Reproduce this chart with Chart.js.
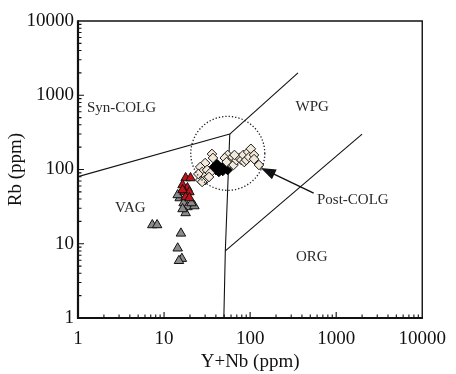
<!DOCTYPE html>
<html>
<head>
<meta charset="utf-8">
<script src="https://cdn.jsdelivr.net/npm/chart.js@4.4.1/dist/chart.umd.min.js"></script>
<style>
  html, body { margin: 0; padding: 0; background: #fff; }
  #wrap { width: 456px; height: 374px; }
</style>
</head>
<body>
<div id="wrap"><canvas id="rbChart" width="456" height="374"></canvas></div>
<script>
// tick labels (powers of ten only)
const tickValues = [1, 10, 100, 1000, 10000];

// gray triangles
const grayX = [7.3, 8.3, 15.7, 14.4, 16.1, 14.9, 15.2, 16.9, 18.7, 22.5, 17.8, 16.4, 20.8, 14.4];
const grayY = [17.9, 17.9, 13.8, 8.7, 6.3, 5.9, 41.3, 35.4, 31.3, 32.2, 26.0, 29.4, 35.4, 45.4];

// red triangles
const redX = [17.8, 20.3, 16.4, 18.7, 17.3, 19.7, 17.8, 19.7, 16.4];
const redY = [76.8, 76.8, 61.8, 56.4, 49.8, 49.8, 42.6, 41.3, 53];

// beige diamonds
const beigeX = [36, 30, 26.3, 27.7, 31.6, 34.2, 29.2, 26.3, 30, 25, 33.3, 37, 27.7,
  54.8, 50.7, 57.7, 53.3, 62.4, 64.1, 69.3, 75, 79.1, 83.2, 85.5, 90.1, 94.9, 97.5,
  102, 111, 111, 126.6, 65.8];
const beigeY = [162, 122, 108, 92.5, 98.5, 89.7, 79.3, 72.2, 72.2, 87, 79.3, 143, 68,
  157, 143, 122, 126, 147, 115, 134, 143, 134, 157, 126, 134, 172, 147,
  190, 157, 138, 115, 157];

// black diamonds
const blackX = [37, 41.1, 45.6, 50.7, 54.8, 43.3, 40, 48.1];
const blackY = [104.7, 118.6, 104.7, 115, 98.5, 92.6, 98.5, 95.5];

// field boundaries
const synVagX = [1, 58];
const synVagY = [80, 300];
const synWpgX = [58, 360];
const synWpgY = [300, 2000];
const vagOrgX = [49.5, 51.5, 58];
const vagOrgY = [1, 8, 300];
const wpgOrgX = [51.5, 2000];
const wpgOrgY = [8, 300];

// field labels
const fieldNames = ["Syn-COLG", "WPG", "VAG", "Post-COLG", "ORG"];
const fieldX = [3.2, 527, 4.06, 1560, 520];
const fieldY = [673, 695, 30.3, 38.8, 6.63];

// post-COLG circle + arrow
const circleCenter = [55, 165];
const circleEdgeX = 148;
const arrowFrom = [547, 48];
const arrowTo = [133, 105];

const serif = "'Liberation Serif', 'Times New Roman', serif";

function pts(xs, ys) {
  return xs.map((x, i) => ({ x: x, y: ys[i] }));
}

function lineSet(xs, ys) {
  return {
    type: "line",
    data: pts(xs, ys),
    showLine: true,
    borderColor: "#111",
    borderWidth: 1.1,
    pointRadius: 0,
    fill: false,
    order: 10,
  };
}

const decorPlugin = {
  id: "decor",
  afterDatasetsDraw(chart) {
    const ctx = chart.ctx;
    const xs = chart.scales.x;
    const ys = chart.scales.y;
    const area = chart.chartArea;

    // dotted circle
    const cx = xs.getPixelForValue(circleCenter[0]);
    const cy = ys.getPixelForValue(circleCenter[1]);
    const r = xs.getPixelForValue(circleEdgeX) - cx;
    ctx.save();
    ctx.strokeStyle = "#222";
    ctx.lineWidth = 1.3;
    ctx.setLineDash([1.3, 2]);
    ctx.beginPath();
    ctx.arc(cx, cy, r, 0, Math.PI * 2);
    ctx.stroke();
    ctx.restore();

    // arrow
    const x1 = xs.getPixelForValue(arrowFrom[0]);
    const y1 = ys.getPixelForValue(arrowFrom[1]);
    const x2 = xs.getPixelForValue(arrowTo[0]);
    const y2 = ys.getPixelForValue(arrowTo[1]);
    const ang = Math.atan2(y2 - y1, x2 - x1);
    ctx.save();
    ctx.strokeStyle = "#111";
    ctx.fillStyle = "#111";
    ctx.lineWidth = 1.4;
    ctx.beginPath();
    ctx.moveTo(x1, y1);
    ctx.lineTo(x2 - 10 * Math.cos(ang), y2 - 10 * Math.sin(ang));
    ctx.stroke();
    ctx.beginPath();
    ctx.moveTo(x2, y2);
    ctx.lineTo(x2 - 15 * Math.cos(ang) + 5.5 * Math.sin(ang), y2 - 15 * Math.sin(ang) - 5.5 * Math.cos(ang));
    ctx.lineTo(x2 - 15 * Math.cos(ang) - 5.5 * Math.sin(ang), y2 - 15 * Math.sin(ang) + 5.5 * Math.cos(ang));
    ctx.closePath();
    ctx.fill();
    ctx.restore();

    // field labels
    ctx.save();
    ctx.font = "15px " + serif;
    ctx.fillStyle = "#2a2a2a";
    ctx.textAlign = "center";
    ctx.textBaseline = "middle";
    fieldNames.forEach((name, i) => {
      ctx.fillText(name, xs.getPixelForValue(fieldX[i]), ys.getPixelForValue(fieldY[i]));
    });
    ctx.restore();

    // frame
    ctx.save();
    ctx.strokeStyle = "#111";
    ctx.lineWidth = 1.4;
    ctx.beginPath();
    ctx.moveTo(area.left, area.top);
    ctx.lineTo(area.right, area.top);
    ctx.lineTo(area.right, area.bottom);
    ctx.stroke();
    ctx.lineWidth = 2.2;
    ctx.beginPath();
    ctx.moveTo(area.left, area.top - 0.7);
    ctx.lineTo(area.left, area.bottom);
    ctx.lineTo(area.right + 0.7, area.bottom);
    ctx.stroke();

    // inward ticks
    ctx.lineWidth = 1.1;
    ctx.beginPath();
    for (let d = 0; d < 4; d++) {
      for (let m = 1; m <= 9; m++) {
        const v = m * Math.pow(10, d);
        const len = m === 1 ? 6 : 3.5;
        if (m === 1 && d === 0) continue;
        const px = xs.getPixelForValue(v);
        ctx.moveTo(px, area.bottom);
        ctx.lineTo(px, area.bottom - len);
        const py = ys.getPixelForValue(v);
        ctx.moveTo(area.left, py);
        ctx.lineTo(area.left + len, py);
      }
    }
    ctx.stroke();
    ctx.restore();
  },
};

const ctx = document.getElementById("rbChart").getContext("2d");

new Chart(ctx, {
  type: "scatter",
  data: {
    datasets: [
      lineSet(synVagX, synVagY),
      lineSet(synWpgX, synWpgY),
      lineSet(vagOrgX, vagOrgY),
      lineSet(wpgOrgX, wpgOrgY),
      {
        label: "gray",
        data: pts(grayX, grayY),
        pointStyle: "triangle",
        pointRadius: 5.5,
        backgroundColor: "#8a8a8a",
        borderColor: "#111",
        borderWidth: 1,
        order: 5,
      },
      {
        label: "red",
        data: pts(redX, redY),
        pointStyle: "triangle",
        pointRadius: 5.5,
        backgroundColor: "#c0121b",
        borderColor: "#111",
        borderWidth: 1,
        order: 4,
      },
      {
        label: "black",
        data: pts(blackX, blackY),
        pointStyle: "rectRot",
        pointRadius: 4.8,
        backgroundColor: "#000",
        borderColor: "#000",
        borderWidth: 1,
        order: 3,
      },
      {
        label: "beige",
        data: pts(beigeX, beigeY),
        pointStyle: "rectRot",
        pointRadius: 4.8,
        backgroundColor: "#f3e9da",
        borderColor: "#1a1a1a",
        borderWidth: 1,
        order: 2,
      },
    ],
  },
  options: {
    responsive: false,
    animation: false,
    layout: { padding: { top: 21, right: 26, left: 0, bottom: 0 } },
    plugins: {
      legend: { display: false },
      tooltip: { enabled: false },
    },
    scales: {
      x: {
        type: "logarithmic",
        min: 1,
        max: 10000,
        grid: { display: false, drawTicks: false },
        border: { display: false },
        afterBuildTicks: (s) => {
          s.ticks = tickValues.map((v) => ({ value: v }));
        },
        afterFit: (s) => {
          s.height = 56;
        },
        ticks: {
          autoSkip: false,
          maxRotation: 0,
          padding: 10,
          color: "#111",
          font: { family: serif, size: 19 },
          callback: (v) => String(v),
        },
        title: {
          display: true,
          text: "Y+Nb (ppm)",
          color: "#111",
          font: { family: serif, size: 19 },
          padding: { top: 0, bottom: 1 },
        },
      },
      y: {
        type: "logarithmic",
        min: 1,
        max: 10000,
        grid: { display: false, drawTicks: false },
        border: { display: false },
        afterBuildTicks: (s) => {
          s.ticks = tickValues.map((v) => ({ value: v }));
        },
        afterFit: (s) => {
          s.width = 78;
        },
        ticks: {
          autoSkip: false,
          padding: 4,
          color: "#111",
          font: { family: serif, size: 19 },
          callback: (v) => String(v),
        },
        title: {
          display: true,
          text: "Rb (ppm)",
          color: "#111",
          font: { family: serif, size: 19 },
          padding: { top: 5, bottom: 0 },
        },
      },
    },
  },
  plugins: [decorPlugin],
});
</script>
</body>
</html>
